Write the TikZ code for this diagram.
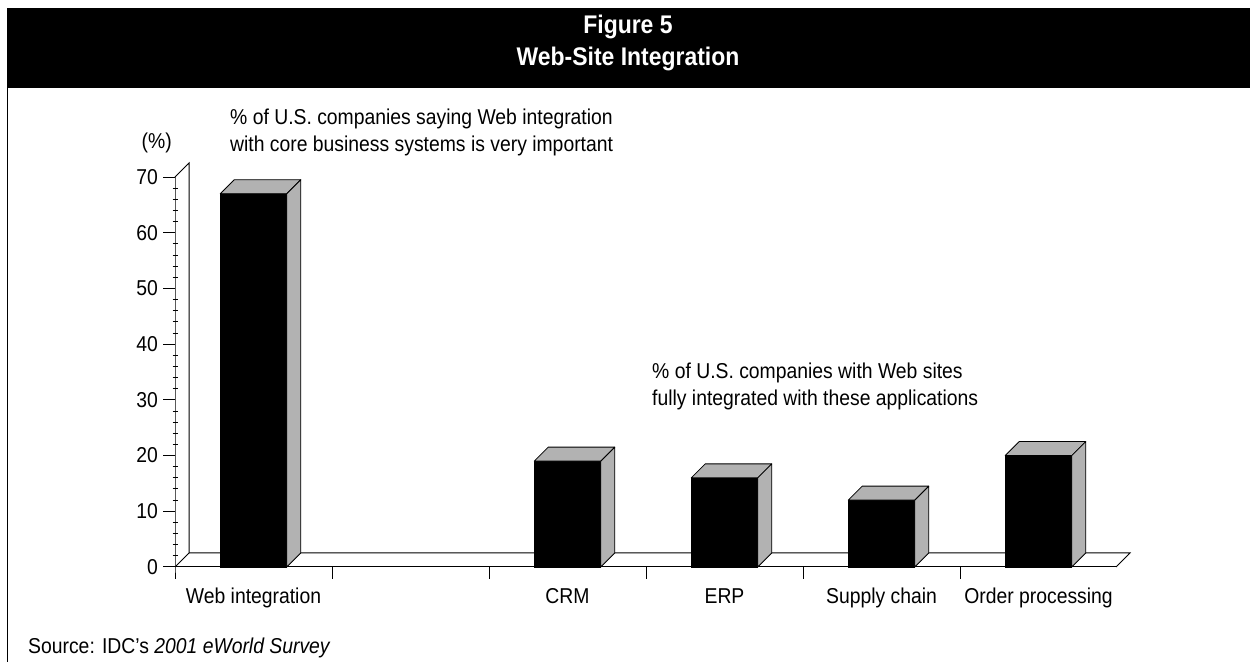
\documentclass[tikz,border=0pt]{standalone}
\usepackage{fontspec}
\setmainfont{Liberation Sans}[FakeStretch=0.9]
\usepackage{tikz}

\begin{document}
\begin{tikzpicture}[x=1pt, y=1pt,
    every node/.style={inner sep=0pt, font=\fontsize{21.5}{26}\selectfont},
    headtxt/.style={anchor=base, text=white, font=\fontsize{25.5}{30}\selectfont\bfseries},
    barfront/.style={fill=black, draw=black, line width=0.8pt},
    barside/.style={fill=black!30, draw=black, line width=0.8pt, line join=round},
    axisline/.style={line width=1pt},
    ticklbl/.style={anchor=east},
    catlbl/.style={anchor=base},
    notelbl/.style={anchor=base west}]
\fill[white] (0,0) rectangle (1250,662); % page
\fill[black] (7,574) rectangle (1250,654); % header band
\node[headtxt] (fignum) at (628,628) {Figure 5};
\node[headtxt] (figname) at (628,596) {Web-Site Integration};
\draw[line width=1pt] (7.5,574) -- (7.5,0); % left rule

\begin{scope}[shift={(175,95)}, y=5.571pt]
\draw[axisline] (0,0) -- ++(14pt,14pt) -- ++(0,70) -- ++(-14pt,-14pt); % back wall
\draw[axisline] (14pt,14pt) -- ++(941,0) -- ++(-14pt,-14pt); % back of floor
\draw[axisline] (0,0) -- (941,0); % front of floor
\draw[axisline] (0,70) -- (0,0) -- ++(0,-12pt); % value axis
\foreach \x in {157,314,...,941}
  \draw[axisline] (\x,0) -- ++(0,-12pt);
\foreach \v in {0,10,...,70}
  \draw[axisline] (0,\v) -- ++(-12pt,0);
\foreach \d in {0,10,...,60}
  \foreach \m in {2,4,6,8}
    \draw[axisline] (-2.5pt,\d+\m) -- ++(5pt,0);
\foreach \v in {0,10,...,70}
  \node[ticklbl] (y\v) at (-17pt,\v) {\v};

% bars: front, top, side
\fill[barfront] (45.2,0) rectangle (111.8,67); % Web integration
\draw[barside] (45.2,67) -- ++(14pt,14pt) -- ++(66.6pt,0) -- ++(-14pt,-14pt) -- cycle;
\draw[barside] (111.8,0) -- ++(14pt,14pt) -- ++(0,67) -- ++(-14pt,-14pt) -- cycle;
\fill[barfront] (359.2,0) rectangle (425.8,19); % CRM
\draw[barside] (359.2,19) -- ++(14pt,14pt) -- ++(66.6pt,0) -- ++(-14pt,-14pt) -- cycle;
\draw[barside] (425.8,0) -- ++(14pt,14pt) -- ++(0,19) -- ++(-14pt,-14pt) -- cycle;
\fill[barfront] (516.2,0) rectangle (582.8,16); % ERP
\draw[barside] (516.2,16) -- ++(14pt,14pt) -- ++(66.6pt,0) -- ++(-14pt,-14pt) -- cycle;
\draw[barside] (582.8,0) -- ++(14pt,14pt) -- ++(0,16) -- ++(-14pt,-14pt) -- cycle;
\fill[barfront] (673.2,0) rectangle (739.8,12); % Supply chain
\draw[barside] (673.2,12) -- ++(14pt,14pt) -- ++(66.6pt,0) -- ++(-14pt,-14pt) -- cycle;
\draw[barside] (739.8,0) -- ++(14pt,14pt) -- ++(0,12) -- ++(-14pt,-14pt) -- cycle;
\fill[barfront] (830.2,0) rectangle (896.8,20); % Order processing
\draw[barside] (830.2,20) -- ++(14pt,14pt) -- ++(66.6pt,0) -- ++(-14pt,-14pt) -- cycle;
\draw[barside] (896.8,0) -- ++(14pt,14pt) -- ++(0,20) -- ++(-14pt,-14pt) -- cycle;

\node[catlbl] (cat0) at (78.5,-37pt) {Web integration};
\node[catlbl] (cat2) at (392.5,-37pt) {CRM};
\node[catlbl] (cat3) at (549.5,-37pt) {ERP};
\node[catlbl] (cat4) at (706.5,-37pt) {Supply chain};
\node[catlbl] (cat5) at (863.5,-37pt) {Order processing};
\end{scope}

\node[anchor=base east] (unit) at (172,513) {(\%)};
\node[notelbl] (notea) at (230,537) {\% of U.S. companies saying Web integration};
\node[notelbl] (noteb) at (230,510) {with core business systems is very important};
\node[notelbl] (notec) at (652,283) {\% of U.S. companies with Web sites};
\node[notelbl] (noted) at (652,256) {fully integrated with these applications};
\node[notelbl] (source) at (28,8) {Source: IDC's \textit{2001 eWorld Survey}};
\end{tikzpicture}
\end{document}
